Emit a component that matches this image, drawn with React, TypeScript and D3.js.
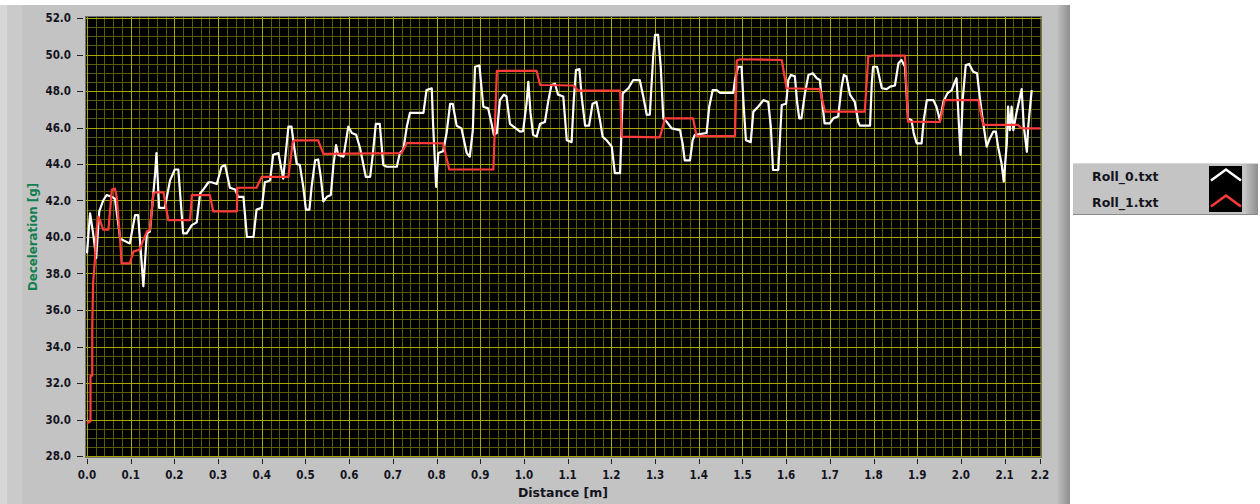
import { useEffect, useRef } from 'react';
import * as d3 from 'd3';

type Pt = [number, number];

// Roll_0.txt (white trace), [distance m, deceleration g]
const roll0: Pt[] = [
  [0.000, 39.1], [0.007, 41.3], [0.014, 40.2], [0.021, 38.85], [0.028, 41.4], [0.037, 42.0], [0.045, 42.3],
  [0.057, 42.2], [0.064, 42.1], [0.076, 39.9], [0.098, 39.65], [0.110, 41.2], [0.117, 41.2], [0.129, 37.3],
  [0.137, 40.2], [0.144, 40.3], [0.156, 43.5], [0.159, 44.6], [0.165, 41.6], [0.178, 41.6], [0.190, 43.1],
  [0.201, 43.7], [0.209, 43.7], [0.220, 40.2], [0.228, 40.2], [0.240, 40.65], [0.251, 40.8], [0.259, 42.4],
  [0.266, 42.6], [0.278, 43.0], [0.285, 43.0], [0.297, 42.9], [0.308, 43.85], [0.316, 43.95], [0.327, 42.7],
  [0.339, 42.6], [0.346, 42.2], [0.358, 42.2], [0.366, 40.0], [0.381, 40.0], [0.388, 41.5], [0.400, 41.6],
  [0.407, 43.0], [0.419, 43.1], [0.426, 44.5], [0.438, 44.6], [0.449, 43.2], [0.461, 46.05], [0.468, 46.05],
  [0.474, 44.95], [0.480, 44.0], [0.487, 43.95], [0.495, 42.75], [0.501, 41.5], [0.509, 41.5], [0.514, 42.75],
  [0.522, 44.2], [0.529, 44.25], [0.535, 43.3], [0.541, 41.95], [0.549, 42.2], [0.558, 42.3], [0.564, 43.95],
  [0.570, 45.04], [0.575, 44.5], [0.587, 44.4], [0.598, 46.05], [0.606, 45.7], [0.616, 45.6], [0.625, 44.86],
  [0.638, 43.3], [0.648, 43.3], [0.654, 44.5], [0.661, 46.2], [0.670, 46.2], [0.678, 43.95], [0.686, 43.85],
  [0.709, 43.85], [0.716, 44.6], [0.724, 44.8], [0.732, 46.05], [0.739, 46.8], [0.770, 46.8], [0.777, 48.05],
  [0.789, 48.15], [0.792, 46.2], [0.799, 42.75], [0.804, 44.6], [0.815, 44.7], [0.823, 45.7], [0.831, 47.3],
  [0.837, 47.3], [0.846, 46.1], [0.857, 45.95], [0.869, 44.6], [0.876, 44.4], [0.883, 45.86], [0.888, 49.33],
  [0.898, 49.4], [0.907, 47.14], [0.918, 47.05], [0.926, 46.2], [0.931, 45.6], [0.938, 45.7], [0.945, 47.5],
  [0.954, 47.8], [0.960, 47.7], [0.968, 46.2], [0.976, 46.05], [0.991, 45.77], [0.998, 45.8], [1.006, 47.33],
  [1.010, 48.5], [1.015, 46.8], [1.021, 45.6], [1.029, 45.5], [1.037, 46.2], [1.048, 46.3], [1.056, 47.5],
  [1.063, 48.33], [1.071, 48.4], [1.078, 47.8], [1.090, 47.7], [1.098, 45.3], [1.109, 45.2], [1.114, 47.5],
  [1.119, 49.15], [1.127, 49.2], [1.132, 47.7], [1.140, 46.1], [1.149, 46.1], [1.157, 47.3], [1.166, 47.4],
  [1.174, 46.4], [1.180, 45.5], [1.189, 45.3], [1.201, 44.95], [1.208, 43.5], [1.220, 43.5], [1.226, 47.87],
  [1.239, 48.15], [1.250, 48.6], [1.265, 48.6], [1.273, 47.7], [1.281, 46.7], [1.288, 46.7], [1.296, 49.97],
  [1.300, 51.07], [1.307, 51.07], [1.313, 49.33], [1.319, 46.5], [1.327, 46.3], [1.338, 45.95], [1.357, 45.86],
  [1.363, 45.13], [1.368, 44.2], [1.380, 44.2], [1.386, 45.3], [1.391, 45.6], [1.418, 45.7], [1.424, 47.14],
  [1.432, 48.05], [1.441, 48.05], [1.449, 47.9], [1.479, 47.9], [1.483, 48.6], [1.490, 49.33], [1.498, 49.33],
  [1.503, 47.14], [1.508, 45.3], [1.519, 45.2], [1.525, 46.87], [1.536, 47.14], [1.548, 47.5], [1.559, 47.4],
  [1.565, 46.05], [1.570, 43.67], [1.582, 43.67], [1.590, 47.23], [1.600, 47.3], [1.605, 48.6], [1.611, 48.88],
  [1.620, 48.8], [1.625, 47.41], [1.630, 46.5], [1.635, 46.5], [1.643, 47.87], [1.651, 48.88], [1.661, 48.97],
  [1.670, 48.7], [1.677, 48.6], [1.688, 46.23], [1.700, 46.23], [1.708, 46.5], [1.719, 46.6], [1.727, 48.24],
  [1.732, 48.88], [1.738, 48.8], [1.746, 47.8], [1.757, 47.41], [1.765, 46.3], [1.769, 46.1], [1.792, 46.1],
  [1.796, 48.42], [1.799, 49.33], [1.808, 49.33], [1.819, 48.15], [1.830, 48.1], [1.838, 48.24], [1.849, 48.3],
  [1.857, 49.52], [1.864, 49.7], [1.872, 49.33], [1.879, 46.5], [1.887, 46.4], [1.892, 45.68], [1.899, 45.13],
  [1.910, 45.13], [1.915, 46.4], [1.922, 47.5], [1.937, 47.5], [1.944, 47.14], [1.952, 46.4], [1.960, 47.41],
  [1.969, 47.87], [1.979, 48.05], [1.986, 48.5], [1.990, 48.7], [1.999, 44.5], [2.004, 47.5], [2.011, 49.42],
  [2.019, 49.48], [2.028, 49.06], [2.037, 48.97], [2.043, 47.7], [2.050, 46.4], [2.055, 45.6], [2.059, 44.95],
  [2.066, 45.4], [2.074, 45.77], [2.080, 45.77], [2.085, 44.95], [2.093, 44.04], [2.098, 43.03], [2.105, 45.13],
  [2.108, 47.14], [2.112, 45.86], [2.116, 47.14], [2.120, 45.86], [2.127, 46.78], [2.139, 48.1], [2.144, 46.05],
  [2.151, 44.67], [2.154, 46.05], [2.162, 48.05],
];

// Roll_1.txt (red trace), stepped
const roll1: Pt[] = [
  [0.000, 29.8], [0.008, 29.9], [0.008, 32.4], [0.012, 32.4], [0.012, 35.0], [0.014, 37.5], [0.018, 38.7],
  [0.022, 40.4], [0.026, 41.1], [0.030, 40.9], [0.037, 40.4], [0.049, 40.4], [0.057, 42.6], [0.064, 42.65],
  [0.068, 42.2], [0.076, 39.8], [0.079, 38.55], [0.098, 38.55], [0.106, 39.2], [0.120, 39.3], [0.137, 40.3],
  [0.144, 40.4], [0.152, 42.4], [0.159, 42.45], [0.175, 42.45], [0.186, 40.93], [0.236, 40.93], [0.240, 42.3],
  [0.281, 42.3], [0.289, 41.4], [0.343, 41.4], [0.344, 42.7], [0.388, 42.7], [0.400, 43.3], [0.461, 43.3],
  [0.471, 45.22], [0.476, 45.3], [0.529, 45.3], [0.541, 44.55], [0.720, 44.6], [0.732, 45.15], [0.815, 45.13],
  [0.829, 43.7], [0.930, 43.7], [0.938, 49.1], [1.029, 49.1], [1.037, 48.33], [1.113, 48.3], [1.124, 48.02],
  [1.220, 48.02], [1.224, 45.5], [1.311, 45.46], [1.323, 46.5], [1.387, 46.5], [1.395, 45.53], [1.483, 45.53],
  [1.487, 49.66], [1.494, 49.74], [1.590, 49.7], [1.601, 48.15], [1.677, 48.1], [1.689, 46.87], [1.780, 46.87],
  [1.788, 49.88], [1.796, 49.94], [1.872, 49.94], [1.879, 46.32], [1.952, 46.3], [1.963, 47.5], [2.040, 47.5],
  [2.051, 46.14], [2.131, 46.14], [2.139, 45.95], [2.181, 45.95],
];

const seriesNames = ['Roll_0.txt', 'Roll_1.txt'];
const seriesColors = ['#ffffff', '#ff3b3b'];

const xMax = 2.181;
const xTicks = [0, 0.1, 0.2, 0.3, 0.4, 0.5, 0.6, 0.7, 0.8, 0.9, 1.0, 1.1, 1.2, 1.3, 1.4, 1.5, 1.6, 1.7, 1.8, 1.9, 2.0, 2.1, xMax];
const xTickLabels = ['0.0', '0.1', '0.2', '0.3', '0.4', '0.5', '0.6', '0.7', '0.8', '0.9', '1.0', '1.1', '1.2', '1.3', '1.4', '1.5', '1.6', '1.7', '1.8', '1.9', '2.0', '2.1', '2.2'];
const yTicks = [28, 30, 32, 34, 36, 38, 40, 42, 44, 46, 48, 50, 52];
const yTickLabels = ['28.0', '30.0', '32.0', '34.0', '36.0', '38.0', '40.0', '42.0', '44.0', '46.0', '48.0', '50.0', '52.0'];

const W = 1260;
const H = 504;

const App = () => {
  const svgRef = useRef<SVGSVGElement>(null);

  useEffect(() => {
    if (!svgRef.current) return;
    const svg = d3.select(svgRef.current);
    svg.selectAll('*').remove();

    const x = d3.scaleLinear().domain([0, xMax]).range([87, 1040]);
    const y = d3.scaleLinear().domain([28, 52]).range([456, 18]);

    const defs = svg.append('defs');
    const rightShade = defs.append('linearGradient').attr('id', 'rshade').attr('x1', 0).attr('x2', 1);
    rightShade.append('stop').attr('offset', '0%').attr('stop-color', '#bdbdbd');
    rightShade.append('stop').attr('offset', '100%').attr('stop-color', '#8e8e8e');
    defs.append('clipPath').attr('id', 'plotclip')
      .append('rect').attr('x', 86).attr('y', 17).attr('width', 955).attr('height', 440);

    // page + graph frame
    svg.append('rect').attr('width', W).attr('height', H).attr('fill', '#ffffff');
    svg.append('rect').attr('x', 0).attr('y', 5).attr('width', 1070).attr('height', H - 5).attr('fill', '#c3c3c3');
    svg.append('rect').attr('x', 0).attr('y', 5).attr('width', 7).attr('height', H - 5).attr('fill', '#d6d6d6');
    svg.append('rect').attr('x', 7).attr('y', 5).attr('width', 15).attr('height', H - 5).attr('fill', '#cacaca');
    svg.append('rect').attr('x', 1058).attr('y', 5).attr('width', 12).attr('height', H - 5).attr('fill', 'url(#rshade)');

    // plot area
    svg.append('rect').attr('x', 86).attr('y', 17).attr('width', 955).attr('height', 440).attr('fill', '#000000');

    const grid = svg.append('g').attr('clip-path', 'url(#plotclip)').attr('shape-rendering', 'crispEdges');
    const minorX = d3.range(0, xMax, 0.02);
    const minorY = d3.range(28, 52, 0.5);
    grid.selectAll('.mx').data(minorX).enter().append('line')
      .attr('x1', d => Math.round(x(d)) + 0.5).attr('x2', d => Math.round(x(d)) + 0.5)
      .attr('y1', 17).attr('y2', 457).attr('stroke', '#5a5a00');
    grid.selectAll('.my').data(minorY).enter().append('line')
      .attr('y1', d => Math.round(y(d)) + 0.5).attr('y2', d => Math.round(y(d)) + 0.5)
      .attr('x1', 86).attr('x2', 1041).attr('stroke', '#5a5a00');
    grid.selectAll('.Mx').data(xTicks.slice(0, -1)).enter().append('line')
      .attr('x1', d => Math.round(x(d)) + 0.5).attr('x2', d => Math.round(x(d)) + 0.5)
      .attr('y1', 17).attr('y2', 457).attr('stroke', '#a8a800');
    grid.selectAll('.My').data(yTicks).enter().append('line')
      .attr('y1', d => Math.round(y(d)) + 0.5).attr('y2', d => Math.round(y(d)) + 0.5)
      .attr('x1', 86).attr('x2', 1041).attr('stroke', '#a8a800');

    svg.append('rect').attr('x', 85.5).attr('y', 16.5).attr('width', 956).attr('height', 441)
      .attr('fill', 'none').attr('stroke', '#6e6e6e');

    // traces
    const line = d3.line<Pt>().x(d => x(d[0])).y(d => y(d[1]));
    const traces = svg.append('g').attr('clip-path', 'url(#plotclip)');
    [roll0, roll1].forEach((series, i) => {
      traces.append('path')
        .attr('d', line(series) as string)
        .attr('fill', 'none')
        .attr('stroke', seriesColors[i])
        .attr('stroke-width', 2.2)
        .attr('stroke-linejoin', 'round');
    });

    // y axis
    const yAxis = svg.append('g');
    yAxis.selectAll('line').data(yTicks).enter().append('line')
      .attr('x1', 77).attr('x2', 83)
      .attr('y1', d => Math.round(y(d)) + 0.5).attr('y2', d => Math.round(y(d)) + 0.5)
      .attr('stroke', '#222').attr('shape-rendering', 'crispEdges');
    yAxis.selectAll('text').data(yTicks).enter().append('text')
      .attr('x', 71).attr('y', d => y(d)).attr('dy', '0.36em')
      .attr('text-anchor', 'end')
      .style('font-family', '"DejaVu Sans Condensed", "DejaVu Sans", sans-serif')
      .style('font-weight', 'bold').style('font-size', '11.5px').style('fill', '#14141e')
      .text((d, i) => yTickLabels[i]);

    // x axis
    const xAxis = svg.append('g');
    xAxis.selectAll('line').data(xTicks).enter().append('line')
      .attr('x1', d => Math.round(x(d)) + 0.5).attr('x2', d => Math.round(x(d)) + 0.5)
      .attr('y1', 459).attr('y2', 464)
      .attr('stroke', '#222').attr('shape-rendering', 'crispEdges');
    xAxis.selectAll('text').data(xTicks).enter().append('text')
      .attr('x', d => x(d)).attr('y', 479)
      .attr('text-anchor', 'middle')
      .style('font-family', '"DejaVu Sans Condensed", "DejaVu Sans", sans-serif')
      .style('font-weight', 'bold').style('font-size', '11.5px').style('fill', '#14141e')
      .text((d, i) => xTickLabels[i]);

    // axis titles
    svg.append('text')
      .attr('x', 563).attr('y', 497).attr('text-anchor', 'middle')
      .style('font-family', '"DejaVu Sans", sans-serif').style('font-weight', 'bold')
      .style('font-size', '12.5px').style('fill', '#14141e')
      .text('Distance [m]');
    svg.append('text')
      .attr('transform', 'translate(37,237) rotate(-90)').attr('text-anchor', 'middle')
      .style('font-family', '"DejaVu Sans", sans-serif').style('font-weight', 'bold')
      .style('font-size', '11.8px').style('fill', '#11804f')
      .text('Deceleration [g]');

    // legend
    const lg = svg.append('g');
    lg.append('rect').attr('x', 1073).attr('y', 163).attr('width', 185).attr('height', 52).attr('fill', '#c4c4c4');
    lg.append('rect').attr('x', 1246).attr('y', 163).attr('width', 12).attr('height', 52).attr('fill', 'url(#rshade)');
    lg.append('line').attr('x1', 1073).attr('x2', 1258).attr('y1', 214.5).attr('y2', 214.5).attr('stroke', '#8a8a8a');
    lg.append('line').attr('x1', 1073).attr('x2', 1258).attr('y1', 163.5).attr('y2', 163.5).attr('stroke', '#d8d8d8');
    lg.append('rect').attr('x', 1209).attr('y', 166).attr('width', 33).attr('height', 46).attr('fill', '#000');
    seriesNames.forEach((name, i) => {
      const base = 180.5 + i * 26;
      lg.append('text').attr('x', 1092).attr('y', base)
        .style('font-family', '"DejaVu Sans", sans-serif').style('font-weight', 'bold')
        .style('font-size', '12.5px').style('fill', '#14141e')
        .text(name);
      lg.append('polyline')
        .attr('points', `1211,${base} 1226,${base - 11} 1241,${base}`)
        .attr('fill', 'none').attr('stroke', seriesColors[i]).attr('stroke-width', 2.5);
    });
  }, []);

  return (
    <div style={{ position: 'absolute', left: 0, top: 0 }}>
      <svg ref={svgRef} width={W} height={H} style={{ display: 'block' }}></svg>
    </div>
  );
};

export default App;
